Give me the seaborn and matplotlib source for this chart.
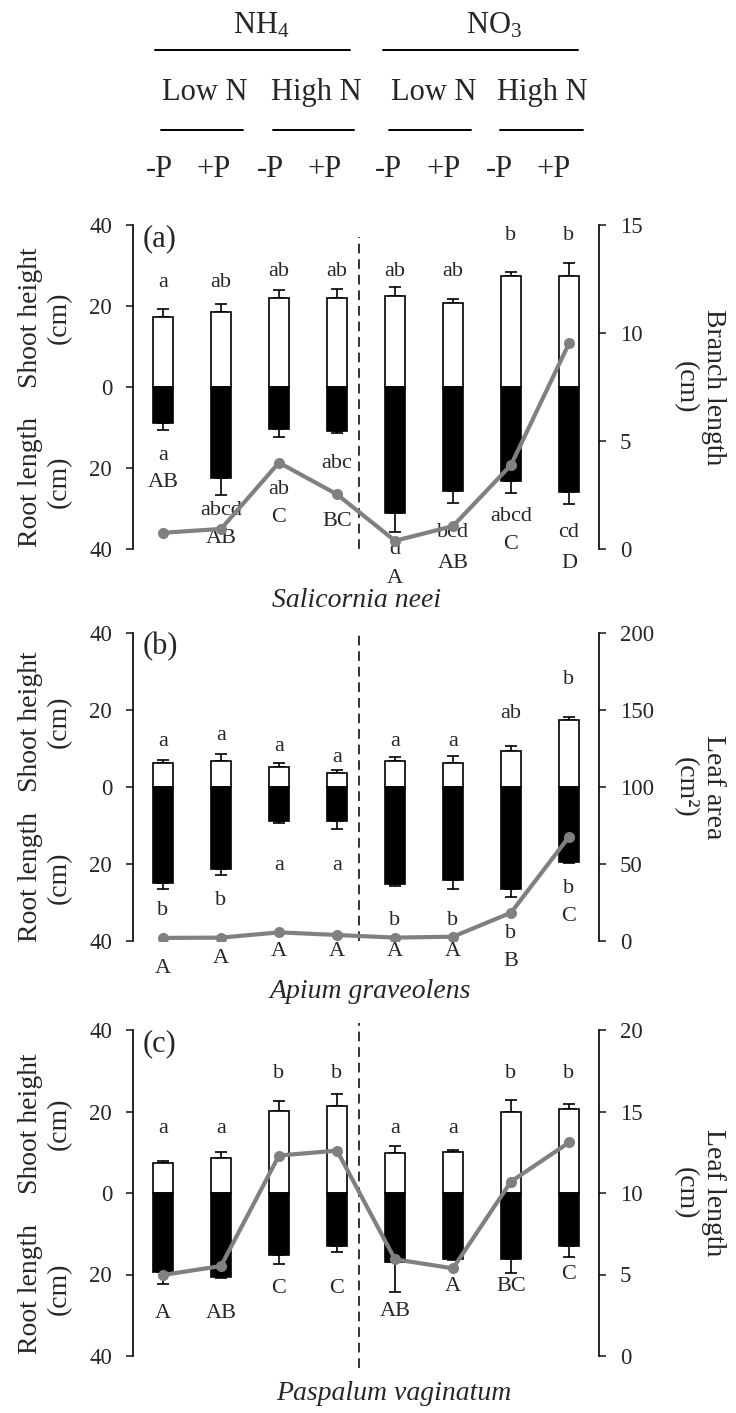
import numpy as np
import matplotlib
matplotlib.use("Agg")
import matplotlib.pyplot as plt
import seaborn as sns
from matplotlib.lines import Line2D
from matplotlib import transforms

# ---------------- data ----------------
treatments = ["NH4 LowN -P", "NH4 LowN +P", "NH4 HighN -P", "NH4 HighN +P",
              "NO3 LowN -P", "NO3 LowN +P", "NO3 HighN -P", "NO3 HighN +P"]
p_labels = ["-P", "+P", "-P", "+P", "-P", "+P", "-P", "+P"]
n_levels = ["Low N", "High N", "Low N", "High N"]
n_forms = [r"NH$_\mathrm{4}$", r"NO$_\mathrm{3}$"]
species = ["Salicornia neei", "Apium graveolens", "Paspalum vaginatum"]
panel_tags = ["(a)", "(b)", "(c)"]
right_labels = ["Branch length\n(cm)", "Leaf area\n(cm²)", "Leaf length\n(cm)"]
left_ticks = [-40, -20, 0, 20, 40]
left_ticklabels = ["40", "20", "0", "20", "40"]

# (a) Salicornia neei
shoot_a = [17.4, 18.4, 21.9, 21.9, 22.5, 20.8, 27.4, 27.4]
shoot_se_a = [1.8, 2.1, 2.0, 2.3, 2.3, 0.9, 1.0, 3.3]
root_a = [9.0, 22.5, 10.3, 10.8, 31.0, 25.6, 23.2, 25.9]
root_se_a = [1.5, 4.2, 2.0, 0.5, 4.8, 3.1, 3.0, 3.0]
branch_a = [0.75, 0.93, 4.0, 2.53, 0.38, 1.06, 3.89, 9.52]
right_ticks_a = [0, 5, 10, 15]

# (b) Apium graveolens
shoot_b = [6.2, 6.8, 5.2, 3.6, 6.8, 6.2, 9.35, 17.4]
shoot_se_b = [0.8, 1.7, 1.0, 0.8, 1.1, 1.9, 1.25, 0.9]
root_b = [25.0, 21.3, 8.75, 8.75, 25.2, 24.2, 26.4, 19.5]
root_se_b = [1.5, 1.5, 0.65, 2.25, 0.5, 2.2, 2.1, 0.3]
leafarea_b = [2.0, 2.2, 5.6, 3.9, 2.2, 2.8, 18.4, 67.7]
right_ticks_b = [0, 50, 100, 150, 200]

# (c) Paspalum vaginatum
shoot_c = [7.3, 8.7, 20.1, 21.4, 9.9, 10.1, 20.0, 20.5]
shoot_se_c = [0.55, 1.4, 2.5, 2.8, 1.7, 0.4, 2.8, 1.3]
root_c = [19.5, 20.5, 15.2, 13.0, 17.0, 16.2, 16.2, 13.0]
root_se_c = [2.8, 0.4, 2.2, 1.6, 7.2, 0.2, 3.4, 2.6]
leaflen_c = [4.97, 5.52, 12.3, 12.6, 5.93, 5.38, 10.7, 13.1]
right_ticks_c = [0, 5, 10, 15, 20]

# significance letters and their heights (left-axis units)
top_let_a = ["a", "ab", "ab", "ab", "ab", "ab", "b", "b"]
top_y_a = [25.7, 25.7, 28.4, 28.4, 28.6, 28.6, 37.5, 37.5]
root_let_a = ["a", "abcd", "ab", "abc", "d", "bcd", "abcd", "cd"]
root_y_a = [-16.8, -30.4, -25.2, -19.0, -40.2, -36.0, -31.9, -36.0]
line_let_a = ["AB", "AB", "C", "BC", "A", "AB", "C", "D"]
line_y_a = [-23.7, -37.3, -32.1, -33.3, -47.2, -43.5, -39.0, -43.5]

top_let_b = ["a", "a", "a", "a", "a", "a", "ab", "b"]
top_y_b = [11.8, 13.5, 10.6, 7.7, 11.8, 11.8, 19.2, 27.8]
root_let_b = ["b", "b", "a", "a", "b", "b", "b", "b"]
root_y_b = [-32.1, -29.4, -20.3, -20.3, -34.8, -34.8, -38.0, -26.3]
line_let_b = ["A", "A", "A", "A", "A", "A", "B", "C"]
line_y_b = [-47.1, -44.5, -42.8, -42.8, -42.8, -42.8, -45.4, -33.7]

top_let_c = ["a", "a", "b", "b", "a", "a", "b", "b"]
top_y_c = [15.9, 15.9, 29.4, 29.4, 15.9, 15.9, 29.4, 29.4]
root_let_c = []
root_y_c = []
line_let_c = ["A", "AB", "C", "C", "AB", "A", "BC", "C"]
line_y_c = [-29.5, -29.5, -23.4, -23.4, -29.1, -23.0, -23.0, -20.1]

# ---------------- style ----------------
sns.set_style("white")
plt.rcParams["font.family"] = ["Liberation Serif", "DejaVu Serif"]
plt.rcParams["mathtext.fontset"] = "custom"
plt.rcParams["mathtext.rm"] = "Liberation Serif"
plt.rcParams["mathtext.it"] = "Liberation Serif:italic"

W, H = 736, 1413
fig = plt.figure(figsize=(W / 100, H / 100), dpi=100)

def fx(px):
    return px / W

def fy(py):
    return 1 - py / H

# header
for name, xc in zip(n_forms, [261, 494]):
    fig.text(fx(xc), fy(33), name, ha="center", va="baseline", fontsize=22)
for x0, x1 in [(155, 350), (383, 578)]:
    fig.add_artist(Line2D([fx(x0), fx(x1)], [fy(50), fy(50)], transform=fig.transFigure,
                          color="black", lw=1.4))
for name, xc in zip(n_levels, [205, 316, 434, 542]):
    fig.text(fx(xc), fy(100), name, ha="center", va="baseline", fontsize=22)
for x0, x1 in [(161, 243), (273, 354), (389, 471), (500, 583)]:
    fig.add_artist(Line2D([fx(x0), fx(x1)], [fy(130), fy(130)], transform=fig.transFigure,
                          color="black", lw=1.4))
for name, xc in zip(p_labels, [159, 214, 270, 325, 388, 444, 499, 554]):
    fig.text(fx(xc), fy(177), name, ha="center", va="baseline", fontsize=22)

panels = [
    dict(top=225, bot=549, shoot=shoot_a, sse=shoot_se_a, root=root_a, rse=root_se_a,
         line=branch_a, rmax=15, rticks=right_ticks_a, tl=top_let_a, ty=top_y_a,
         rl=root_let_a, ry=root_y_a, ll=line_let_a, ly=line_y_a, dash=(237, 549),
         sp_x=357, sp_y=607),
    dict(top=633, bot=941, shoot=shoot_b, sse=shoot_se_b, root=root_b, rse=root_se_b,
         line=leafarea_b, rmax=200, rticks=right_ticks_b, tl=top_let_b, ty=top_y_b,
         rl=root_let_b, ry=root_y_b, ll=line_let_b, ly=line_y_b, dash=(630, 941),
         sp_x=370, sp_y=998),
    dict(top=1030, bot=1356, shoot=shoot_c, sse=shoot_se_c, root=root_c, rse=root_se_c,
         line=leaflen_c, rmax=20, rticks=right_ticks_c, tl=top_let_c, ty=top_y_c,
         rl=root_let_c, ry=root_y_c, ll=line_let_c, ly=line_y_c, dash=(1023, 1368),
         sp_x=394, sp_y=1400),
]

AX_L, AX_R = 133, 599
xpos = np.arange(len(treatments))
xlim = (-0.517, 7.517)

for i, p in enumerate(panels):
    ax = fig.add_axes([fx(AX_L), fy(p["bot"]), (AX_R - AX_L) / W, (p["bot"] - p["top"]) / H])
    shoot = np.array(p["shoot"])
    root = -np.array(p["root"])
    sns.barplot(x=treatments, y=shoot, order=treatments, ax=ax, color="white",
                edgecolor="black", linewidth=1.2, width=0.345, saturation=1,
                errorbar=None, zorder=2)
    sns.barplot(x=treatments, y=root, order=treatments, ax=ax, color="black",
                edgecolor="black", linewidth=1.2, width=0.345, saturation=1,
                errorbar=None, zorder=2)
    zeros = np.zeros(len(shoot))
    ax.errorbar(xpos, shoot, yerr=[zeros, p["sse"]], fmt="none", ecolor="black",
                elinewidth=1.2, capsize=4.5, capthick=1.2, zorder=1)
    ax.errorbar(xpos, root, yerr=[p["rse"], zeros], fmt="none", ecolor="black",
                elinewidth=1.2, capsize=4.5, capthick=1.2, zorder=1)
    ax.set_xlim(*xlim)
    ax.set_ylim(-40, 40)
    ax.set_yticks(left_ticks)
    ax.set_yticklabels(left_ticklabels)
    ax.set_xlabel("")
    ax.set_ylabel("")
    ax.tick_params(axis="x", bottom=False, labelbottom=False)
    ax.tick_params(axis="y", left=True, direction="out", length=5, width=1.2,
                   pad=10, labelsize=16.5)
    for s in ["top", "right", "bottom"]:
        ax.spines[s].set_visible(False)
    ax.spines["left"].set_linewidth(1.2)
    ax.spines["left"].set_color("black")

    # dashed separator between N forms
    h = p["bot"] - p["top"]
    d0, d1 = p["dash"]
    ax.plot([3.38, 3.38], [(p["bot"] - d1) / h, (p["bot"] - d0) / h],
            transform=transforms.blended_transform_factory(ax.transData, ax.transAxes),
            color="#333333", lw=1.4, ls=(0, (5, 3)), clip_on=False, zorder=0)

    # letters
    for xv, s, yv in zip(xpos, p["tl"], p["ty"]):
        ax.text(xv, yv, s, ha="center", va="center", fontsize=16)
    for xv, s, yv in zip(xpos, p["rl"], p["ry"]):
        ax.text(xv, yv, s, ha="center", va="center", fontsize=16)
    for xv, s, yv in zip(xpos, p["ll"], p["ly"]):
        ax.text(xv, yv, s, ha="center", va="center", fontsize=16, clip_on=False)

    # panel tag
    ax.text(0.021, 36.6, panel_tags[i], ha="left", va="center", fontsize=22,
            transform=transforms.blended_transform_factory(ax.transAxes, ax.transData))

    # left labels
    bt = transforms.blended_transform_factory(ax.transAxes, ax.transData)
    ax.text(-0.189, 17, "Shoot height\n(cm)", rotation=90, ha="center", va="center",
            fontsize=20, linespacing=1.2, transform=bt)
    ax.text(-0.189, -23.5, "Root length\n(cm)", rotation=90, ha="center", va="center",
            fontsize=20, linespacing=1.2, transform=bt)

    # right axis with line
    ax2 = ax.twinx()
    sns.lineplot(x=xpos, y=p["line"], ax=ax2, color="#808080", linewidth=3,
                 marker="o", markersize=8, markeredgewidth=0, legend=False)
    ax2.set_xlim(*xlim)
    ax2.set_ylim(0, p["rmax"])
    ax2.set_yticks(p["rticks"])
    ax2.set_yticklabels([str(t) for t in p["rticks"]])
    ax2.tick_params(axis="y", right=True, direction="out", length=5, width=1.2,
                    pad=10, labelsize=16.5)
    for s in ["top", "left", "bottom"]:
        ax2.spines[s].set_visible(False)
    ax2.spines["right"].set_linewidth(1.2)
    ax2.spines["right"].set_color("black")
    ax2.set_ylabel(right_labels[i], rotation=270, fontsize=20, linespacing=1.2,
                   ha="center", va="center")
    ax2.yaxis.set_label_coords(1.215, 0.5)

    # species name
    fig.text(fx(p["sp_x"]), fy(p["sp_y"]), species[i], ha="center", va="baseline",
             fontsize=20, style="italic")

fig.savefig("out.png", dpi=100)
